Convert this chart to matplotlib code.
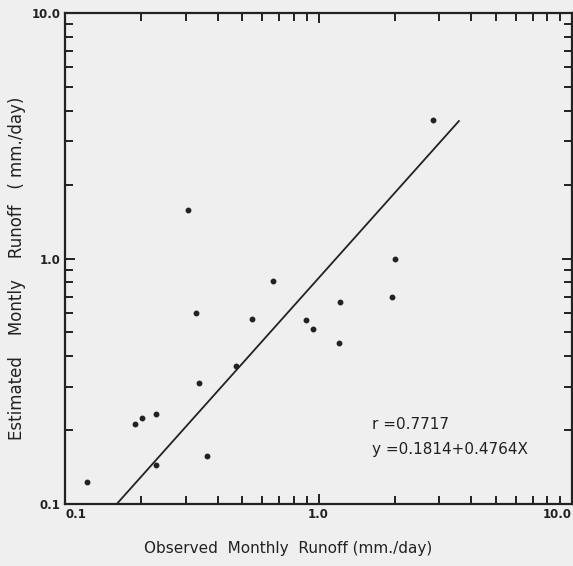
import matplotlib
matplotlib.use("Agg")
import matplotlib.pyplot as plt
from matplotlib.ticker import FixedLocator, LogLocator, NullFormatter

# Data (mm./day)
observed = [0.305, 0.66, 2.83, 2.0, 1.95, 0.329, 0.547, 0.473, 0.338, 0.189,
            0.201, 0.229, 0.229, 0.363, 0.122, 1.216, 0.893, 0.951, 1.205]
estimated = [1.58, 0.81, 3.67, 0.995, 0.697, 0.60, 0.567, 0.365, 0.311, 0.212,
             0.224, 0.233, 0.144, 0.157, 0.123, 0.665, 0.562, 0.516, 0.453]

# Regression line end points
line_x = [0.160, 3.58]
line_y = [0.1, 3.63]

tick_vals = [0.1, 1.0, 10.0]
tick_labels = ["0.1", "1.0", "10.0"]

ink = "#222222"
bg = "#efefef"

fig = plt.figure(figsize=(5.73, 5.66), dpi=100, facecolor=bg)
ax = fig.add_axes([65/573, 1 - 504/566, (572 - 65)/573, (504 - 13)/566])
ax.set_facecolor(bg)
ax.set_xscale("log")
ax.set_yscale("log")
ax.set_xlim(0.1, 10.0)
ax.set_ylim(0.1, 10.0)

ax.plot(line_x, line_y, color=ink, lw=1.3)
ax.plot(observed, estimated, linestyle="none", marker="o", markersize=3.2,
        color=ink)

for sp in ax.spines.values():
    sp.set_linewidth(1.6)
    sp.set_color(ink)

for axis in (ax.xaxis, ax.yaxis):
    axis.set_major_locator(FixedLocator(tick_vals))
    axis.set_minor_locator(LogLocator(base=10, subs=range(2, 10)))
    axis.set_minor_formatter(NullFormatter())

ax.set_xticklabels(tick_labels)
ax.set_yticklabels(tick_labels)
ax.tick_params(which="both", direction="in", top=True, right=True,
               color=ink, width=1.4)
ax.tick_params(which="major", length=7)
ax.tick_params(which="minor", length=6)
ax.tick_params(axis="x", which="major", labelsize=8.5, pad=3, labelcolor=ink)
ax.tick_params(axis="y", which="major", labelsize=8.5, pad=3, labelcolor=ink)

xl = ax.get_xticklabels()
xl[0].set_ha("left")
xl[-1].set_ha("right")
for t in ax.get_xticklabels() + ax.get_yticklabels():
    t.set_fontweight("bold")

ax.set_xlabel("Observed  Monthly  Runoff (mm./day)", fontsize=11,
              color=ink, va="center")
ax.set_ylabel("Estimated    Montly    Runoff   ( mm./day)", fontsize=12,
              color=ink, va="center")
ax.xaxis.set_label_coords(0.44, -0.09)
ax.yaxis.set_label_coords(-0.095, 0.479)

ax.text(1.63, 0.21, "r =0.7717", fontsize=11, color=ink, va="center")
ax.text(1.63, 0.1675, "y =0.1814+0.4764X", fontsize=11, color=ink,
        va="center")

fig.savefig("out.png", dpi=100, facecolor=bg)
